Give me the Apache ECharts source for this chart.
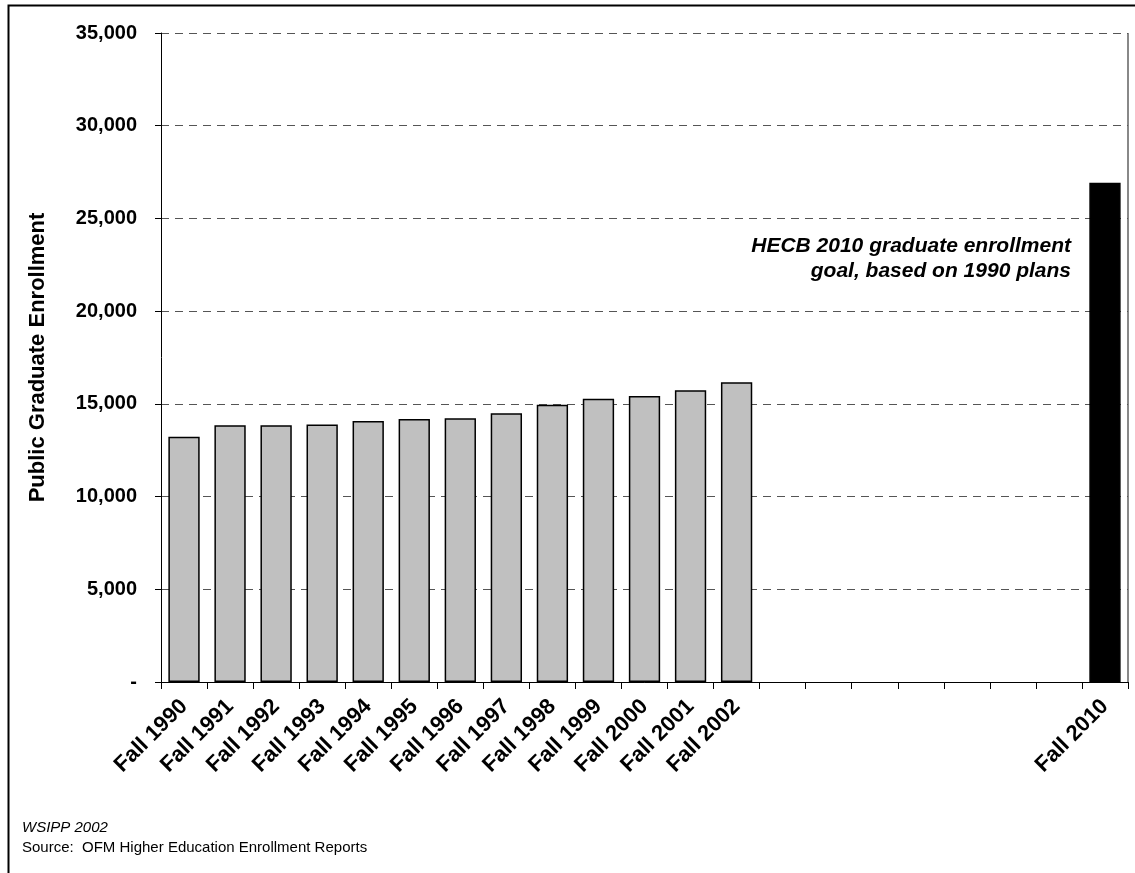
<!DOCTYPE html>
<html>
<head>
<meta charset="utf-8">
<script src="https://cdn.jsdelivr.net/npm/echarts@6/dist/echarts.min.js"></script>
<style>
  html, body { margin: 0; padding: 0; background: #fff; }
  #chart { width: 1135px; height: 873px; }
</style>
</head>
<body>
<div id="chart"></div>
<script>
// category labels (empty years keep the spacing up to 2010)
const years = ['Fall 1990','Fall 1991','Fall 1992','Fall 1993','Fall 1994','Fall 1995','Fall 1996',
  'Fall 1997','Fall 1998','Fall 1999','Fall 2000','Fall 2001','Fall 2002',
  '', '', '', '', '', '', '', 'Fall 2010']
// actual enrollment, fall 1990 - fall 2002
const enrollment = [13230, 13850, 13850, 13890, 14070, 14180, 14220, 14500, 14950, 15280, 15420, 15730, 16160]
// HECB 2010 goal
const goal2010 = 26920
const yTicks = { min: 0, max: 35000, interval: 5000 }

const fmtY = v => v === 0 ? '-' : v.toLocaleString('en-US')
const FONT = 'Arial, "Liberation Sans"'

const barData = years.map((y, i) => {
  if (i < enrollment.length) return enrollment[i]
  if (y === 'Fall 2010') return { value: goal2010, itemStyle: { color: '#000', borderColor: '#000' } }
  return null
})

const chart = echarts.init(document.getElementById('chart'))
chart.setOption({
  backgroundColor: '#fff',
  animation: false,
  grid: { left: 161, right: 7, top: 33, bottom: 191, containLabel: false },
  xAxis: {
    type: 'category', data: years,
    axisLine: { lineStyle: { color: '#000', width: 1 } },
    axisTick: { show: true, length: 7, lineStyle: { color: '#000' } },
    axisLabel: {
      interval: 0, rotate: 45, margin: 21,
      fontFamily: FONT, fontWeight: 'bold', fontSize: 22, color: '#000',
    },
  },
  yAxis: {
    type: 'value', min: yTicks.min, max: yTicks.max, interval: yTicks.interval,
    name: 'Public Graduate Enrollment', nameLocation: 'middle', nameGap: 112, nameRotate: 90,
    nameTextStyle: { fontFamily: FONT, fontWeight: 'bold', fontSize: 22, color: '#000' },
    axisLine: { show: true, lineStyle: { color: '#000', width: 1 } },
    axisTick: { show: true, length: 6, lineStyle: { color: '#000' } },
    axisLabel: {
      formatter: fmtY, margin: 24,
      fontFamily: FONT, fontWeight: 'bold', fontSize: 20, color: '#000',
    },
    splitLine: { show: true, lineStyle: { color: '#555', type: [8, 6], width: 1 } },
  },
  series: [{
    type: 'bar', data: barData, barCategoryGap: '32%',
    itemStyle: { color: '#c0c0c0', borderColor: '#000', borderWidth: 1.5 },
  }],
  graphic: [
    { type: 'rect', left: 6, top: 3, shape: { width: 1140, height: 880 },
      style: { fill: 'none', stroke: '#000', lineWidth: 2 }, silent: true },
    { type: 'line', shape: { x1: 1128, y1: 33, x2: 1128, y2: 682 },
      style: { stroke: '#888', lineWidth: 2 }, silent: true },
    { type: 'text', x: 1071, y: 234,
      style: { text: 'HECB 2010 graduate enrollment\ngoal, based on 1990 plans', align: 'right',
        font: `italic bold 21px ${FONT}`, fill: '#000', lineHeight: 25 } },
    { type: 'text', left: 22, top: 820,
      style: { text: 'WSIPP 2002', font: `italic 15px ${FONT}`, fill: '#000' } },
    { type: 'text', left: 22, top: 840,
      style: { text: 'Source:  OFM Higher Education Enrollment Reports', font: `15px ${FONT}`, fill: '#000' } },
  ],
})
</script>
</body>
</html>
